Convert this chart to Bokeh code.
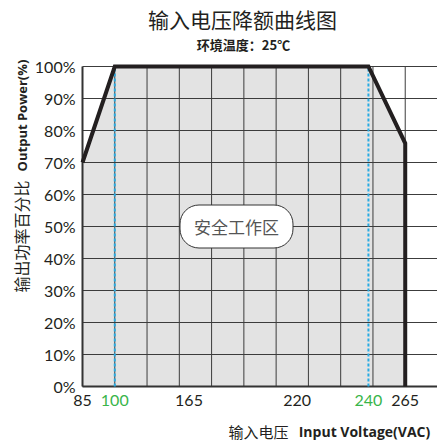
import numpy as np
from bokeh.plotting import figure
from bokeh.models import Range1d, Label, LabelSet, ColumnDataSource
from bokeh.core.properties import value
from bokeh.embed import file_html
from bokeh.resources import INLINE

# ---- data ----
axis_volts = [85, 100, 165, 220, 240, 265]          # tick labels on the voltage axis
axis_pos = [0, 1, 3.3, 6.65, 8.86, 10]              # schematic (non-linear) axis positions
axis_label_colors = ["#231f20", "#39b54a", "#231f20", "#231f20", "#39b54a", "#231f20"]

curve_volts = [85, 100, 240, 265, 265]
curve_power = [70, 100, 100, 76, 0]

marker_volts = [100, 240]                           # dotted reference lines

y_ticks = [0, 10, 20, 30, 40, 50, 60, 70, 80, 90, 100]
grid_cols = list(range(1, 12))


def to_pos(v):
    return np.interp(v, axis_volts, axis_pos)


# ---- layout (canvas pixel <-> data) ----
W, H = 437, 443
FX0, FY0 = 82, 386          # pixel of (x=0, y=0%)
SX, SY = 355 / 11, 3.2      # pixels per unit


def at(px, py):
    return (px - FX0) / SX, (FY0 - py) / SY


x0, y1 = at(0, 0)
x1, y0 = at(W, H)

p = figure(width=W, height=H, x_range=Range1d(x0, x1), y_range=Range1d(y0, y1),
           output_backend="svg", toolbar_location=None,
           min_border=0, min_border_left=0, min_border_right=0,
           min_border_top=0, min_border_bottom=0)
p.axis.visible = False
p.grid.visible = False
p.outline_line_color = None
p.background_fill_color = "white"
p.border_fill_color = "white"

XMAX = 11
YMAX = 100

# fill (safe area)
fx = list(to_pos(curve_volts)) + [to_pos(85)]
fy = curve_power + [0]
p.patch(fx, fy, fill_color="#e3e3e3", line_color=None)

# grid
gc = "#3c3c3c"
p.segment(x0=grid_cols, y0=[0] * len(grid_cols), x1=grid_cols, y1=[YMAX] * len(grid_cols),
          line_color=gc, line_width=1)
p.segment(x0=[0] * len(y_ticks), y0=y_ticks, x1=[XMAX] * len(y_ticks), y1=y_ticks,
          line_color=gc, line_width=1)

# axis lines
p.segment(x0=[0, 0], y0=[0, 0], x1=[0, XMAX], y1=[YMAX, 0],
          line_color="#333333", line_width=2)

# dotted reference lines
mx = to_pos(marker_volts)
p.segment(x0=mx, y0=[0] * len(mx), x1=mx, y1=[100] * len(mx),
          line_color="#29abe2", line_width=2, line_dash="3 2")

# derating curve
p.line(to_pos(curve_volts), curve_power, line_color="#231f20", line_width=4,
       line_join="miter")

TICK_FONT = "Lato"

# x tick labels
src = ColumnDataSource(dict(x=to_pos(axis_volts), text=[str(v) for v in axis_volts],
                            color=axis_label_colors))
_, ty = at(0, 400)
p.add_layout(LabelSet(x="x", y=ty, text="text", source=src, text_color="color",
                      text_font=value(TICK_FONT), text_font_size=value("16px"),
                      text_align="center", text_baseline="middle"))

# y tick labels
tx, _ = at(75, 0)
ysrc = ColumnDataSource(dict(y=y_ticks, text=[f"{t}%" for t in y_ticks]))
p.add_layout(LabelSet(x=tx, y="y", text="text", source=ysrc, text_color="#231f20",
                      text_font=value(TICK_FONT), text_font_size=value("16px"),
                      text_align="right", text_baseline="middle"))

CJK = "Noto Sans CJK SC"


def label(text, px, py, size, font=CJK, bold=False, color="#231f20", angle=0.0,
          align="center", **kw):
    x, y = at(px, py)
    p.add_layout(Label(x=x, y=y, text=text, text_font=font, text_font_size=size,
                       text_font_style="bold" if bold else "normal",
                       text_color=color, angle=angle, text_align=align,
                       text_baseline="middle", **kw))


label("输入电压降额曲线图", 242, 18, "21px")
label("环境温度：25℃", 243, 44, "13px", bold=True)
label("输出功率百分比", 20, 236, "16px", angle=np.pi / 2)
label("Output Power(%)", 21, 115, "13px", font="Open Sans", bold=True, angle=np.pi / 2)
label("输入电压", 258, 431, "15px")
label("Input Voltage(VAC)", 364, 431, "14px", font="Open Sans", bold=True)
label("安全工作区", 236, 226, "17px", color="#555555",
      background_fill_color="white", border_line_color="#333333",
      border_line_width=1, padding=(14, 9), border_radius=19)

open("out.html", "w").write(file_html(p, INLINE))
